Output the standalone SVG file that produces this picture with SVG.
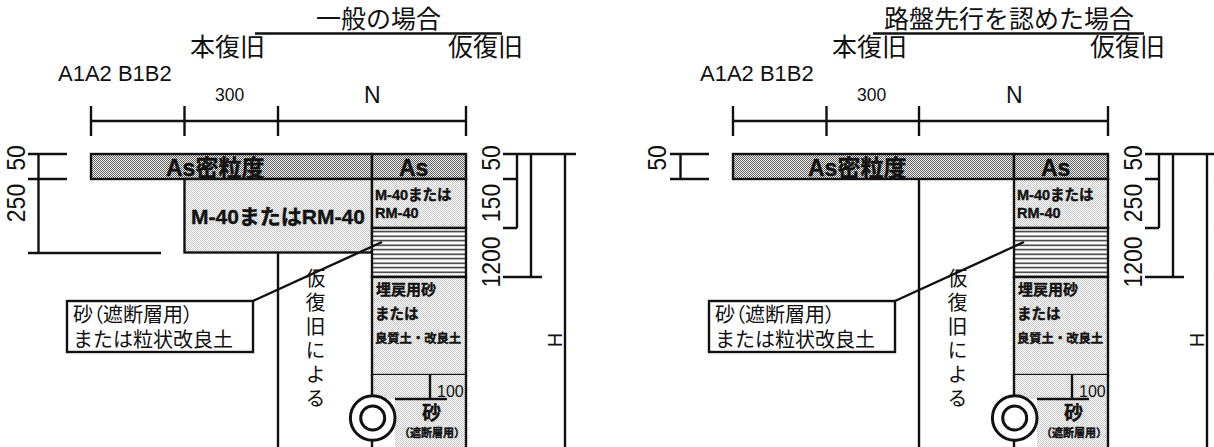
<svg xmlns="http://www.w3.org/2000/svg" width="1214" height="447" viewBox="0 0 1214 447">
<style>
text{font-family:"Liberation Sans","Noto Sans CJK JP",sans-serif;fill:#111}
.l{stroke:#111;stroke-width:2.4;fill:none}
.box{stroke:#111;stroke-width:2.4}
.t25{font-size:25px}
.b{font-weight:700;stroke:#111;stroke-width:.4}
.v{font-size:20px;writing-mode:vertical-rl;letter-spacing:4px}
</style>
<defs>
<pattern id="dark" width="2" height="2" patternUnits="userSpaceOnUse"><rect width="2" height="2" fill="#eee"/><rect width="1" height="1" fill="#666"/><rect x="1" y="1" width="1" height="1" fill="#666"/></pattern>
<pattern id="light" width="2" height="2" patternUnits="userSpaceOnUse"><rect width="2" height="2" fill="#fff"/><rect width="1" height="1" fill="#c8c8c8"/><rect x="1" y="1" width="1" height="1" fill="#c8c8c8"/></pattern>
<pattern id="stripe" width="4.5" height="4.5" patternUnits="userSpaceOnUse"><rect width="4.5" height="4.5" fill="#fff"/><rect y="1.5" width="4.5" height="1.4" fill="#222"/></pattern>
</defs>

<g id="panel-general">
<g id="titles">
<text class="t25" x="316" y="28">一般の場合</text>
<text class="t25" x="190" y="56">本復旧</text>
<text class="t25" x="448" y="56">仮復旧</text>
<text x="58" y="81" font-size="22">A1A2 B1B2</text>
<text x="215" y="101" font-size="17.5">300</text>
<text x="364" y="103" font-size="23">N</text>
</g>
<g id="layers">
<rect class="box" x="91" y="154" width="281" height="25" fill="url(#dark)"/>
<rect class="box" x="372" y="154" width="94" height="25" fill="url(#dark)"/>
<rect class="box" x="184.5" y="179" width="187.5" height="73.5" fill="url(#light)"/>
<rect class="box" x="372" y="179" width="94" height="49" fill="url(#light)"/>
<rect class="box" x="372" y="228" width="94" height="49" fill="url(#stripe)"/>
<rect class="box" x="372" y="277" width="94" height="98" fill="url(#light)"/>
<path d="M372 375H466V447H395V399H372Z" fill="url(#light)"/>
<text class="b" x="166" y="176" font-size="23">As密粒度</text>
<text class="b" x="399" y="176" font-size="23">As</text>
<text class="b" x="191" y="224" font-size="21">M-40またはRM-40</text>
<text class="b" x="375" y="200" font-size="14.5">M-40または</text>
<text class="b" x="375" y="218" font-size="14.5">RM-40</text>
<text class="b" x="376" y="295" font-size="15">埋戻用砂</text>
<text class="b" x="375" y="319" font-size="14.5">または</text>
<text class="b" x="375" y="343" font-size="12.3">良質土・改良土</text>
<text x="437" y="397" font-size="16">100</text>
<text class="b" x="422" y="420" font-size="19">砂</text>
<text class="b" x="399" y="437" font-size="11">（遮断層用）</text>
</g>
<g id="connectors-general">
<path class="l" d="M91 106V136M184.5 106V136M278 106V136M466 106V136M91 121H466M255 33.5H502"/>
<path class="l" d="M28 154H67M28 179H67M28 253H161M38.5 154V253"/>
<path class="l" d="M503 154H576M503 179H517M503 228H517M503 277H542M517 154V228M531 154V277M565 154V447"/>
<path class="l" d="M278 253V447M372 375V396M372 440V447M466 375V447M430 375V399M395 399H447"/>
<path class="l" d="M253 301L382 242"/>
</g>
<g id="pipe-general"><circle cx="372.7" cy="418" r="22.3" fill="#fff" stroke="#111" stroke-width="3"/><circle cx="372.7" cy="418" r="12" fill="#fff" stroke="#111" stroke-width="3"/></g>
<g id="callout-general"><rect class="box" x="67" y="301" width="186" height="51" fill="#fff"/>
<text x="73" y="322" font-size="20" style="font-feature-settings:'palt'">砂（遮断層用）</text>
<text x="73" y="347" font-size="20">または粒状改良土</text></g>
<text class="v" x="314" y="268">仮復旧による</text>
<g id="dims-general">
<text transform="translate(25 158) rotate(-90) scale(.92 1)" text-anchor="middle" font-size="25">50</text>
<text transform="translate(25 203) rotate(-90) scale(.92 1)" text-anchor="middle" font-size="25">250</text>
<text transform="translate(500 158) rotate(-90) scale(.92 1)" text-anchor="middle" font-size="25">50</text>
<text transform="translate(500 203) rotate(-90) scale(.92 1)" text-anchor="middle" font-size="25">150</text>
<text transform="translate(500 262) rotate(-90) scale(.92 1)" text-anchor="middle" font-size="25">1200</text>
<text transform="translate(562 340) rotate(-90)" text-anchor="middle" font-size="20">H</text>
</g>
</g>

<g id="panel-roadbed" transform="translate(642 0)">
<g id="titles-2">
<text class="t25" x="242" y="28">路盤先行を認めた場合</text>
<text class="t25" x="190" y="56">本復旧</text>
<text class="t25" x="448" y="56">仮復旧</text>
<text x="58" y="81" font-size="22">A1A2 B1B2</text>
<text x="215" y="101" font-size="17.5">300</text>
<text x="364" y="103" font-size="23">N</text>
</g>
<g id="layers-2">
<rect class="box" x="91" y="154" width="281" height="25" fill="url(#dark)"/>
<rect class="box" x="372" y="154" width="94" height="25" fill="url(#dark)"/>
<rect class="box" x="372" y="179" width="94" height="49" fill="url(#light)"/>
<rect class="box" x="372" y="228" width="94" height="49" fill="url(#stripe)"/>
<rect class="box" x="372" y="277" width="94" height="98" fill="url(#light)"/>
<path d="M372 375H466V447H395V399H372Z" fill="url(#light)"/>
<text class="b" x="166" y="176" font-size="23">As密粒度</text>
<text class="b" x="399" y="176" font-size="23">As</text>
<text class="b" x="375" y="200" font-size="14.5">M-40または</text>
<text class="b" x="375" y="218" font-size="14.5">RM-40</text>
<text class="b" x="376" y="295" font-size="15">埋戻用砂</text>
<text class="b" x="375" y="319" font-size="14.5">または</text>
<text class="b" x="375" y="343" font-size="12.3">良質土・改良土</text>
<text x="437" y="397" font-size="16">100</text>
<text class="b" x="422" y="420" font-size="19">砂</text>
<text class="b" x="399" y="437" font-size="11">（遮断層用）</text>
</g>
<g id="connectors-roadbed">
<path class="l" d="M91 106V136M184.5 106V136M277 106V136M466 106V136M91 121H466M231 33.5H502"/>
<path class="l" d="M28 154H67M28 179H67M38.5 154V179"/>
<path class="l" d="M503 154H572M503 179H517M503 228H517M503 277H542M517 154V228M531 154V277M565 154V447"/>
<path class="l" d="M277 179V447M372 375V396M372 440V447M466 375V447M430 375V399M395 399H447"/>
<path class="l" d="M253 301L382 242"/>
</g>
<g id="pipe-roadbed"><circle cx="372.7" cy="418" r="22.3" fill="#fff" stroke="#111" stroke-width="3"/><circle cx="372.7" cy="418" r="12" fill="#fff" stroke="#111" stroke-width="3"/></g>
<g id="callout-roadbed"><rect class="box" x="67" y="301" width="186" height="51" fill="#fff"/>
<text x="73" y="322" font-size="20" style="font-feature-settings:'palt'">砂（遮断層用）</text>
<text x="73" y="347" font-size="20">または粒状改良土</text></g>
<text class="v" x="314" y="268">仮復旧による</text>
<g id="dims-roadbed">
<text transform="translate(24 158) rotate(-90) scale(.92 1)" text-anchor="middle" font-size="25">50</text>
<text transform="translate(500 158) rotate(-90) scale(.92 1)" text-anchor="middle" font-size="25">50</text>
<text transform="translate(500 203) rotate(-90) scale(.92 1)" text-anchor="middle" font-size="25">250</text>
<text transform="translate(500 262) rotate(-90) scale(.92 1)" text-anchor="middle" font-size="25">1200</text>
<text transform="translate(562 340) rotate(-90)" text-anchor="middle" font-size="20">H</text>
</g>
</g>
</svg>
